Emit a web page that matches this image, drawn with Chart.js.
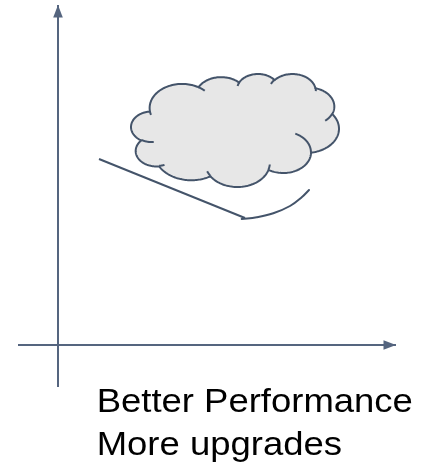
<!DOCTYPE html>
<html>
<head>
<meta charset="utf-8">
<script src="https://cdn.jsdelivr.net/npm/chart.js@4.4.1/dist/chart.umd.min.js"></script>
<style>
  html, body { margin: 0; padding: 0; background: #ffffff; }
  #wrap { position: relative; width: 429px; height: 467px; }
</style>
</head>
<body>
<div id="wrap"><canvas id="c"></canvas></div>
<script>
// ---- data (diagram units: origin at the axes crossing) ----
const verticalAxis = [{x: 0, y: -42}, {x: 0, y: 340}];
const horizontalAxis = [{x: -40, y: 0}, {x: 338, y: 0}];
const trendLine = [{x: 41, y: 186}, {x: 187, y: 127}];
const curveLine = [{x: 183.7, y: 126}, {x: 198.7, y: 127.7}, {x: 215.3, y: 131.7}, {x: 232, y: 139}, {x: 243.7, y: 147.7}, {x: 251, y: 155}];
const cloudBox = {xMin: 73, xMax: 281, yMin: 158, yMax: 271};
const captionLines = ["Better Performance", "More upgrades"];

// ---- cloud preset geometry (shape definition) ----
const CLOUD_START = [3900, 14370];
const CLOUD_ARCS = [
  [6753, 9190, -11429249, 7426832],
  [5333, 7267, -8646143, 5396714],
  [4365, 5945, -8748475, 5983381],
  [4857, 6595, -7859164, 7034504],
  [5333, 7273, -4722533, 6541615],
  [6775, 9220, -2776035, 7816140],
  [5785, 7867, 37501, 6842000],
  [6752, 9215, 1347096, 6910353],
  [7720, 10543, 3974558, 4542661],
  [4360, 5918, -16496525, 8804134],
  [4345, 5945, -14809710, 9151131]
];
const CLOUD_STROKES = [
  [4693, 26177, 4345, 5945, 5204520, 1585770],
  [6928, 34899, 4360, 5918, 4416628, 686848],
  [16478, 39090, 6752, 9215, 8257449, 844866],
  [28827, 34751, 6752, 9215, 387196, 959901],
  [34129, 22954, 5785, 7867, -4217541, 4255042],
  [41798, 15354, 5333, 7273, 1819082, 1665090],
  [38324, 5426, 4857, 6595, -824660, 891534],
  [29078, 3952, 4857, 6595, -8950887, 1091722],
  [22141, 4720, 4365, 5945, -9809656, 1061181],
  [14000, 5192, 6753, 9190, -4002417, 739161],
  [4127, 15789, 6753, 9190, 9417599, 711162]
];

function arcPoints(x0, y0, wR, hR, st, sw) {
  const toRad = v => v / 60000 * Math.PI / 180;
  const a1 = toRad(st), a2 = toRad(st + sw);
  const param = a => Math.atan2(Math.sin(a) / hR, Math.cos(a) / wR);
  const t1 = param(a1), t2 = param(a2);
  const cx = x0 - wR * Math.cos(t1), cy = y0 - hR * Math.sin(t1);
  let dt = t2 - t1;
  if (sw > 0) { while (dt <= 0) dt += 2 * Math.PI; }
  else { while (dt >= 0) dt -= 2 * Math.PI; }
  const n = 48, pts = [];
  for (let i = 1; i <= n; i++) {
    const t = t1 + dt * i / n;
    pts.push([cx + wR * Math.cos(t), cy + hR * Math.sin(t)]);
  }
  return pts;
}

function buildCloud() {
  let cur = CLOUD_START.slice();
  const outline = [cur.slice()];
  for (const [wR, hR, st, sw] of CLOUD_ARCS) {
    const pts = arcPoints(cur[0], cur[1], wR, hR, st, sw);
    outline.push(...pts);
    cur = pts[pts.length - 1];
  }
  const strokes = CLOUD_STROKES.map(([x, y, wR, hR, st, sw]) => [[x, y], ...arcPoints(x, y, wR, hR, st, sw)]);
  let minX = Infinity, maxX = -Infinity, minY = Infinity, maxY = -Infinity;
  outline.forEach(([x, y]) => { minX = Math.min(minX, x); maxX = Math.max(maxX, x); minY = Math.min(minY, y); maxY = Math.max(maxY, y); });
  return {outline, strokes, minX, maxX, minY, maxY};
}
const cloudGeom = buildCloud();

const cloudPlugin = {
  id: 'cloud',
  afterDatasetsDraw(chart) {
    const {ctx, scales: {x, y}} = chart;
    const g = cloudGeom;
    const px0 = x.getPixelForValue(cloudBox.xMin), px1 = x.getPixelForValue(cloudBox.xMax);
    const py0 = y.getPixelForValue(cloudBox.yMax), py1 = y.getPixelForValue(cloudBox.yMin);
    const map = ([u, v]) => [px0 + (u - g.minX) / (g.maxX - g.minX) * (px1 - px0),
                             py0 + (v - g.minY) / (g.maxY - g.minY) * (py1 - py0)];
    ctx.save();
    ctx.lineWidth = 2;
    ctx.strokeStyle = '#44546a';
    ctx.fillStyle = '#e7e7e7';
    ctx.lineJoin = 'round';
    ctx.beginPath();
    g.outline.forEach((p, i) => { const [a, b] = map(p); i ? ctx.lineTo(a, b) : ctx.moveTo(a, b); });
    ctx.closePath();
    ctx.fill();
    ctx.stroke();
    g.strokes.forEach(s => {
      ctx.beginPath();
      s.forEach((p, i) => { const [a, b] = map(p); i ? ctx.lineTo(a, b) : ctx.moveTo(a, b); });
      ctx.stroke();
    });
    ctx.restore();
  }
};

const arrowPlugin = {
  id: 'arrows',
  afterDatasetsDraw(chart) {
    const ctx = chart.ctx;
    chart.data.datasets.forEach((ds, i) => {
      if (!ds.arrow) return;
      const pts = chart.getDatasetMeta(i).data;
      const a = pts[pts.length - 2], b = pts[pts.length - 1];
      const ang = Math.atan2(b.y - a.y, b.x - a.x);
      const L = 12.5, W = 4.8;
      ctx.save();
      ctx.translate(b.x, b.y);
      ctx.rotate(ang);
      ctx.fillStyle = ds.borderColor;
      ctx.beginPath();
      ctx.moveTo(0, 0);
      ctx.lineTo(-L, -W);
      ctx.lineTo(-L, W);
      ctx.closePath();
      ctx.fill();
      ctx.restore();
    });
  }
};

const captionPlugin = {
  id: 'caption',
  afterDraw(chart, args, opts) {
    const {ctx, scales: {x, y}} = chart;
    ctx.save();
    ctx.fillStyle = '#000000';
    ctx.font = opts.size + 'px "Liberation Sans", Arial, sans-serif';
    ctx.textBaseline = 'alphabetic';
    ctx.textAlign = 'left';
    captionLines.forEach((t, i) => {
      const px = x.getPixelForValue(opts.x), py = y.getPixelForValue(opts.y[i]);
      ctx.save();
      ctx.translate(px, py);
      ctx.scale(opts.stretch, 1);
      ctx.fillText(t, 0, 0);
      ctx.restore();
    });
    ctx.restore();
  }
};

const axisColor = '#55657f';
const lineColor = '#44546a';

new Chart(document.getElementById('c'), {
  type: 'scatter',
  data: {
    datasets: [
      {data: verticalAxis, showLine: true, borderColor: axisColor, borderWidth: 2, pointRadius: 0, arrow: true},
      {data: horizontalAxis, showLine: true, borderColor: axisColor, borderWidth: 2, pointRadius: 0, arrow: true},
      {data: trendLine, showLine: true, borderColor: lineColor, borderWidth: 2, pointRadius: 0},
      {data: curveLine, showLine: true, borderColor: lineColor, borderWidth: 2, pointRadius: 0, tension: 0.4, borderCapStyle: 'round'}
    ]
  },
  options: {
    responsive: true,
    maintainAspectRatio: false,
    animation: false,
    layout: {padding: 0},
    events: [],
    scales: {
      x: {type: 'linear', min: -58, max: 371, display: false},
      y: {type: 'linear', min: -122, max: 345, display: false}
    },
    plugins: {
      legend: {display: false},
      tooltip: {enabled: false},
      caption: {size: 33, stretch: 1.105, x: 38.7, y: [-66.7, -110.3]}
    }
  },
  plugins: [cloudPlugin, arrowPlugin, captionPlugin]
});
</script>
</body>
</html>
